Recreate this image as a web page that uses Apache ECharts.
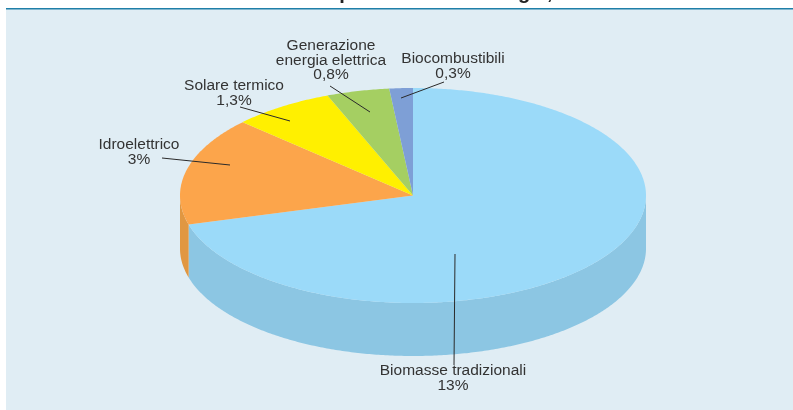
<!DOCTYPE html>
<html><head><meta charset="utf-8">
<style>html,body{margin:0;padding:0;background:#fff}#c{width:793px;height:410px}</style>
<script src="https://cdn.jsdelivr.net/npm/echarts@6/dist/echarts.min.js"></script>
</head><body><div id="c"></div>
<script>
var categories = ['Biomasse tradizionali','Idroelettrico','Solare termico','Generazione energia elettrica','Biocombustibili'];
var values = [13, 3, 1.3, 0.8, 0.3];
var valueLabels = ['13%','3%','1,3%','0,8%','0,3%'];
var labelLines = [['Biomasse tradizionali','13%'],['Idroelettrico','3%'],['Solare termico','1,3%'],['Generazione','energia elettrica','0,8%'],['Biocombustibili','0,3%']];
var titleText = 'Fonti di produzione di energia, 2005';

var topColors = ['#9BDAF9','#FCA54B','#FFF000','#A5CF62','#7E9FD6'];
var sideColors = ['#8CC6E3','#E19741','#E0D300','#92B856','#6F8CBC'];
var geo = {cx:413, cy:195.5, rx:233, ry:107.5, depth:53};
var labelPos = [[453,371],[139,145],[234,86],[331,46],[453,59]];
var leaderFrom = [[454,365],[162,158],[240,107],[330,86],[444,82]];
var leaderTo = [[455,254],[230,165],[290,121],[370,112],[401,98]];
var lineH = 14.5;

var total = values.reduce(function(a,b){return a+b;},0);
var starts = [], acc = 0;
values.forEach(function(v){ starts.push(acc/total*Math.PI*2); acc += v; });
function pt(a, dy){ return [geo.cx+geo.rx*Math.sin(a), geo.cy-geo.ry*Math.cos(a)+(dy||0)]; }
function arc(a0,a1,dy){ var n=Math.max(2,Math.ceil((a1-a0)/0.01)), r=[]; for(var i=0;i<=n;i++) r.push(pt(a0+(a1-a0)*i/n,dy)); return r; }

var data = values.map(function(v,i){ return {value:[i,v], name:categories[i]}; });

function renderSide(p, api){
  var i = api.value(0), a0 = starts[i], a1 = a0 + api.value(1)/total*Math.PI*2;
  var lo = Math.max(a0, Math.PI/2), hi = Math.min(a1, Math.PI*1.5);
  if(hi <= lo) return {type:'group', children:[]};
  var pts = arc(lo,hi,0).concat(arc(lo,hi,geo.depth).reverse());
  return {type:'polygon', shape:{points:pts}, style:{fill:sideColors[i]}};
}
function renderTop(p, api){
  var i = api.value(0), a0 = starts[i], a1 = a0 + api.value(1)/total*Math.PI*2;
  return {type:'polygon', shape:{points:[[geo.cx,geo.cy]].concat(arc(a0,a1,0))}, style:{fill:topColors[i]}};
}
function renderLabel(p, api){
  var i = api.value(0), lines = labelLines[i], kids = [];
  kids.push({type:'line', shape:{x1:leaderFrom[i][0],y1:leaderFrom[i][1],x2:leaderTo[i][0],y2:leaderTo[i][1]}, style:{stroke:'#2a2a2a',lineWidth:1}});
  lines.forEach(function(t,k){
    kids.push({type:'text', x:labelPos[i][0], y:labelPos[i][1]+k*lineH, style:{text:t, fill:'#333', font:'15.5px "Liberation Sans", Arial, sans-serif', textAlign:'center', textVerticalAlign:'middle'}});
  });
  return {type:'group', children:kids};
}
var chart = echarts.init(document.getElementById('c'), null, {renderer:'canvas'});
chart.setOption({
  animation:false,
  backgroundColor:'#fff',
  graphic:[
    {type:'rect', z:-10, shape:{x:6,y:8,width:787,height:402}, style:{fill:'#E0EDF4'}, silent:true},
    {type:'rect', z:-9, shape:{x:6,y:8,width:787,height:1.6}, style:{fill:'#1F7FA8'}, silent:true},
    {type:'text', z:-9, x:432, y:3, style:{text:titleText, fill:'#222', font:'bold 20px "Liberation Sans", Arial, sans-serif', textAlign:'center', textVerticalAlign:'bottom'}, silent:true}
  ],
  series:[
    {type:'custom', coordinateSystem:'none', renderItem:renderSide, data:data, silent:true, z:1},
    {type:'custom', coordinateSystem:'none', renderItem:renderTop, data:data, silent:true, z:2},
    {type:'custom', coordinateSystem:'none', renderItem:renderLabel, data:data, silent:true, z:3}
  ]
});
</script></body></html>
